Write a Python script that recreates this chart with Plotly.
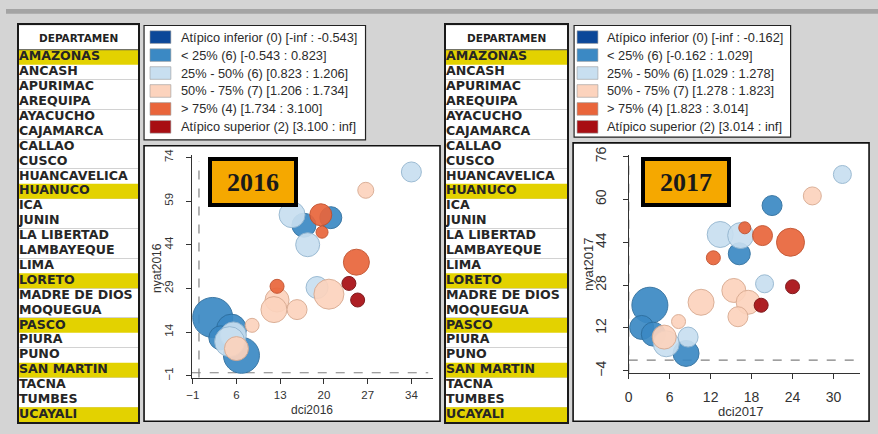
import plotly.graph_objects as go

W, H = 878, 434

# -------------------------------------------------
# Datos
# -------------------------------------------------
departamentos = [
    "AMAZONAS", "ANCASH", "APURIMAC", "AREQUIPA", "AYACUCHO", "CAJAMARCA",
    "CALLAO", "CUSCO", "HUANCAVELICA", "HUANUCO", "ICA", "JUNIN",
    "LA LIBERTAD", "LAMBAYEQUE", "LIMA", "LORETO", "MADRE DE DIOS",
    "MOQUEGUA", "PASCO", "PIURA", "PUNO", "SAN MARTIN", "TACNA", "TUMBES",
    "UCAYALI",
]
resaltados = ["AMAZONAS", "HUANUCO", "LORETO", "PASCO", "SAN MARTIN", "UCAYALI"]

clases = ["Atípico inferior", "< 25%", "25% - 50%", "50% - 75%", "> 75%", "Atípico superior"]
colores = ["#0c4899", "#3b89c4", "#c8dff0", "#fcd3bd", "#e9653b", "#a80e13"]
bordes = ["#08336e", "#2d6e9e", "#94b6d0", "#d9aa90", "#c24f2a", "#760a0d"]

rangos_2016 = ["(0) [-inf : -0.543]", "(6) [-0.543 : 0.823]", "(6) [0.823 : 1.206]",
               "(7) [1.206 : 1.734]", "(4) [1.734 : 3.100]", "(2) [3.100 : inf]"]
rangos_2017 = ["(0) [-inf : -0.162]", "(6) [-0.162 : 1.029]", "(6) [1.029 : 1.278]",
               "(7) [1.278 : 1.823]", "(4) [1.823 : 3.014]", "(2) [3.014 : inf]"]

# 2016: dci, nyat, tamano (radio), clase (0..5)
dci_2016 = [34.0, 26.7, 14.9, 16.8, 21.1, 19.5, 19.7, 17.4, 25.2, 24.0, 25.4, 18.9, 20.8,
            12.5, 12.5, 12.0, 15.7, 8.5, 2.2, 5.2, 3.5, 6.8, 5.5, 4.9, 6.0]
nyat_2016 = [69.0, 62.7, 54.3, 50.7, 53.3, 54.3, 48.3, 44.0, 38.0, 30.7, 25.0, 29.3, 27.0,
             29.7, 25.0, 21.7, 21.7, 16.3, 19.0, 15.0, 12.0, 6.0, 13.0, 10.7, 8.3]
tam_2016 = [10, 8, 13, 12, 11, 11, 6, 12, 13, 7, 7, 11, 15,
            7, 12, 13, 10, 7, 20, 15, 12, 18, 13, 15, 12]
clase_2016 = [2, 3, 2, 1, 1, 4, 4, 2, 4, 5, 5, 2, 3,
              4, 3, 3, 3, 3, 1, 1, 1, 1, 2, 2, 3]

# 2017
dci_2017 = [31.3, 26.9, 21.0, 17.0, 13.4, 16.4, 19.6, 23.7, 16.2, 12.4, 19.9, 24.0, 15.4,
            17.5, 19.4, 10.6, 16.0, 7.3, 3.1, 1.9, 8.7, 8.4, 5.5, 5.2, 3.6]
nyat_2017 = [69.3, 61.3, 57.7, 49.4, 46.9, 46.5, 46.5, 44.0, 39.7, 38.2, 28.5, 27.4, 26.0,
             21.6, 20.5, 21.6, 16.2, 14.4, 20.5, 12.2, 8.6, 2.5, 6.1, 8.6, 9.7]
tam_2017 = [9, 9, 10, 6, 13, 13, 10, 14, 11, 7, 9, 7, 12,
            12, 7, 13, 10, 7, 18, 12, 10, 13, 13, 12, 12]
clase_2017 = [2, 3, 1, 4, 2, 2, 4, 4, 1, 4, 2, 5, 3,
              3, 5, 3, 3, 3, 1, 1, 2, 1, 2, 3, 1]


def xp(v):
    return v / W


def yp(v):
    return 1 - v / H


fig = go.Figure()
shapes = []
annotations = []

AMARILLO = "#e3d200"
TEXTO = "#2b2b2b"

# -------------------------------------------------
# Tablas de departamentos
# -------------------------------------------------
def add_tabla(n, x0, x1):
    xa = "x" if n == 1 else f"x{n}"
    ya = "y" if n == 1 else f"y{n}"
    fig.add_trace(go.Bar(
        x=[1] * len(resaltados), y=resaltados, orientation="h", width=1,
        marker=dict(color=AMARILLO, line_width=0),
        xaxis=xa, yaxis=ya, hoverinfo="skip", showlegend=False,
    ))
    fig.add_trace(go.Scatter(
        x=[0] * len(departamentos), y=departamentos, mode="text",
        text=departamentos, textposition="middle right",
        textfont=dict(family="DejaVu Sans", size=12.6, color="#262626", weight="bold"),
        xaxis=xa, yaxis=ya, hoverinfo="skip", showlegend=False, cliponaxis=False,
    ))
    head = 25 / 15.36
    key = "" if n == 1 else str(n)
    fig.layout["xaxis" + key] = dict(
        domain=[xp(x0), xp(x1)], range=[0, 1], anchor=ya,
        showgrid=False, zeroline=False, showticklabels=False, ticks="",
        showline=True, mirror=True, linecolor="#1a1a1a", linewidth=1.5,
        fixedrange=True,
    )
    fig.layout["yaxis" + key] = dict(
        domain=[yp(426), yp(17)], type="category",
        categoryorder="array", categoryarray=departamentos,
        range=[24.5, -0.5 - head], anchor=xa,
        tickson="boundaries", showgrid=True, gridcolor="#d2d2d2", gridwidth=1,
        ticks="", showticklabels=False,
        showline=True, mirror=True, linecolor="#1a1a1a", linewidth=1.5,
        fixedrange=True,
    )
    annotations.append(dict(
        xref=xa, yref=ya, x=0.5, y=-0.5 - head / 2, text="DEPARTAMEN",
        xanchor="center", yanchor="middle", showarrow=False,
        font=dict(family="DejaVu Sans", size=10.5, color="#222", weight="bold"),
    ))
    shapes.append(dict(
        type="line", xref=xa, yref=ya, x0=0, x1=1, y0=-0.5, y1=-0.5,
        line=dict(color="#555", width=1),
    ))


# -------------------------------------------------
# Leyendas
# -------------------------------------------------
def add_leyenda(box, sw_x, txt_x, rangos):
    x0, y0, x1, y1 = box
    shapes.append(dict(type="rect", xref="paper", yref="paper", layer="below",
                       x0=xp(x0), x1=xp(x1), y0=yp(y1), y1=yp(y0),
                       fillcolor="white", line=dict(color="#222", width=1.2)))
    for i, (nombre, rango) in enumerate(zip(clases, rangos)):
        yc = 29 + i * 18.5
        shapes.append(dict(type="rect", xref="paper", yref="paper",
                           x0=xp(sw_x), x1=xp(sw_x + 21), y0=yp(yc + 6.5), y1=yp(yc - 6.5),
                           fillcolor=colores[i], line=dict(color="#9a9a9a", width=0.6)))
        annotations.append(dict(
            xref="paper", yref="paper", x=xp(txt_x), y=yp(yc), xanchor="left", yanchor="middle",
            text=f"{nombre} {rango}", showarrow=False,
            font=dict(family="Liberation Sans", size=12.8, color=TEXTO),
        ))


# -------------------------------------------------
# Graficos de burbujas
# -------------------------------------------------
def add_burbujas(n, dci, nyat, tam, clase, panel, dom_x, dom_y, rx, ry,
                 tx, ty, anio, tfont, standx, standy, xtit, ytit):
    xa, ya = f"x{n}", f"y{n}"
    shapes.append(dict(type="rect", xref="paper", yref="paper", layer="below",
                       x0=xp(panel[0]), x1=xp(panel[2]), y0=yp(panel[3]), y1=yp(panel[1]),
                       fillcolor="white", line=dict(color="#111", width=1.6)))
    for k in range(len(clases)):
        idx = [i for i, c in enumerate(clase) if c == k]
        if not idx:
            continue
        fig.add_trace(go.Scatter(
            x=[dci[i] for i in idx], y=[nyat[i] for i in idx],
            mode="markers", name=clases[k],
            marker=dict(size=[tam[i] for i in idx], sizemode="diameter", sizeref=0.5,
                        color=colores[k], opacity=0.92,
                        line=dict(color=bordes[k], width=1)),
            xaxis=xa, yaxis=ya, showlegend=False, cliponaxis=False,
        ))
    axis_common = dict(
        showgrid=False, zeroline=False, showline=True, linecolor="#333", linewidth=1,
        ticks="outside", ticklen=5, tickcolor="#333", tickmode="array",
        tickfont=dict(family="Liberation Sans", size=tfont, color="#333"),
        fixedrange=True,
    )
    fig.layout["xaxis" + str(n)] = dict(
        axis_common, domain=[xp(dom_x[0]), xp(dom_x[1])], range=rx, tickvals=tx,
        anchor=ya, ticklabelstandoff=standx,
    )
    fig.layout["yaxis" + str(n)] = dict(
        axis_common, domain=[yp(dom_y[1]), yp(dom_y[0])], range=ry, tickvals=ty,
        anchor=xa, tickangle=-90, ticklabelstandoff=standy,
    )
    # lineas de referencia en cero
    shapes.append(dict(type="line", xref=xa, yref=ya + " domain", x0=0, x1=0, y0=0, y1=0.97,
                       layer="below", line=dict(color="#808080", width=1.2, dash="dash")))
    shapes.append(dict(type="line", xref=xa + " domain", yref=ya, x0=0, x1=0.98, y0=0, y1=0,
                       layer="below", line=dict(color="#808080", width=1.2, dash="dash")))
    # etiqueta del anio
    annotations.append(dict(
        xref="paper", yref="paper", x=xp(anio[1]), y=yp(anio[2]),
        xanchor="center", yanchor="middle",
        text=f"<b>{anio[0]}</b>", showarrow=False, width=82, height=42,
        bgcolor="#f5a800", bordercolor="#000", borderwidth=4, borderpad=0,
        font=dict(family="Liberation Serif", size=26, color="#1a1a1a"),
    ))
    # titulos de ejes
    annotations.append(dict(
        xref="paper", yref="paper", x=xp(xtit[1]), y=yp(xtit[2]), text=xtit[0],
        xanchor="center", yanchor="middle", showarrow=False,
        font=dict(family="Liberation Sans", size=xtit[3], color="#333"),
    ))
    annotations.append(dict(
        xref="paper", yref="paper", x=xp(ytit[1]), y=yp(ytit[2]), text=ytit[0],
        xanchor="center", yanchor="middle", showarrow=False, textangle=-90,
        font=dict(family="Liberation Sans", size=ytit[3], color="#333"),
    ))


# fondo superior
shapes.append(dict(type="rect", xref="paper", yref="paper", layer="below",
                   x0=0, x1=1, y0=yp(5), y1=1, fillcolor="#a4a4a4", line_width=0))

add_tabla(1, 13, 133)
add_leyenda((139, 17, 362, 135), 145, 174, rangos_2016)
add_burbujas(
    2, dci_2016, nyat_2016, tam_2016, clase_2016,
    panel=(139, 141, 437, 425), dom_x=(187, 430), dom_y=(150, 380),
    rx=[-1.16, 37.47], ry=[-1.67, 75.0],
    tx=[-1, 6, 13, 20, 27, 34], ty=[-1, 14, 29, 44, 59, 74],
    anio=("2016", 249, 178), tfont=11.5, standx=2, standy=8,
    xtit=("dci2016", 308, 413, 12), ytit=("nyat2016", 152, 267, 12),
)

add_tabla(3, 443, 565)
add_leyenda((572, 17, 790, 132), 575, 603, rangos_2017)
add_burbujas(
    4, dci_2017, nyat_2017, tam_2017, clase_2017,
    panel=(571, 138, 869, 425), dom_x=(627, 860), dom_y=(151, 375),
    rx=[0, 33.9], ry=[-4.72, 76.4],
    tx=[0, 6, 12, 18, 24, 30], ty=[-4, 12, 28, 44, 60, 76],
    anio=("2017", 685, 178), tfont=14, standx=6, standy=11,
    xtit=("dci2017", 740, 415, 13), ytit=("nyat2017", 586, 263, 13),
)

fig.update_layout(
    width=W, height=H,
    margin=dict(l=0, r=0, t=0, b=0),
    paper_bgcolor="#d4d4d4",
    plot_bgcolor="white",
    showlegend=False,
    barmode="overlay",
    shapes=shapes,
    annotations=annotations,
)

fig.write_html(
    "out.html",
    config={"displayModeBar": False},
    post_script="document.body.style.margin='0px';",
)
